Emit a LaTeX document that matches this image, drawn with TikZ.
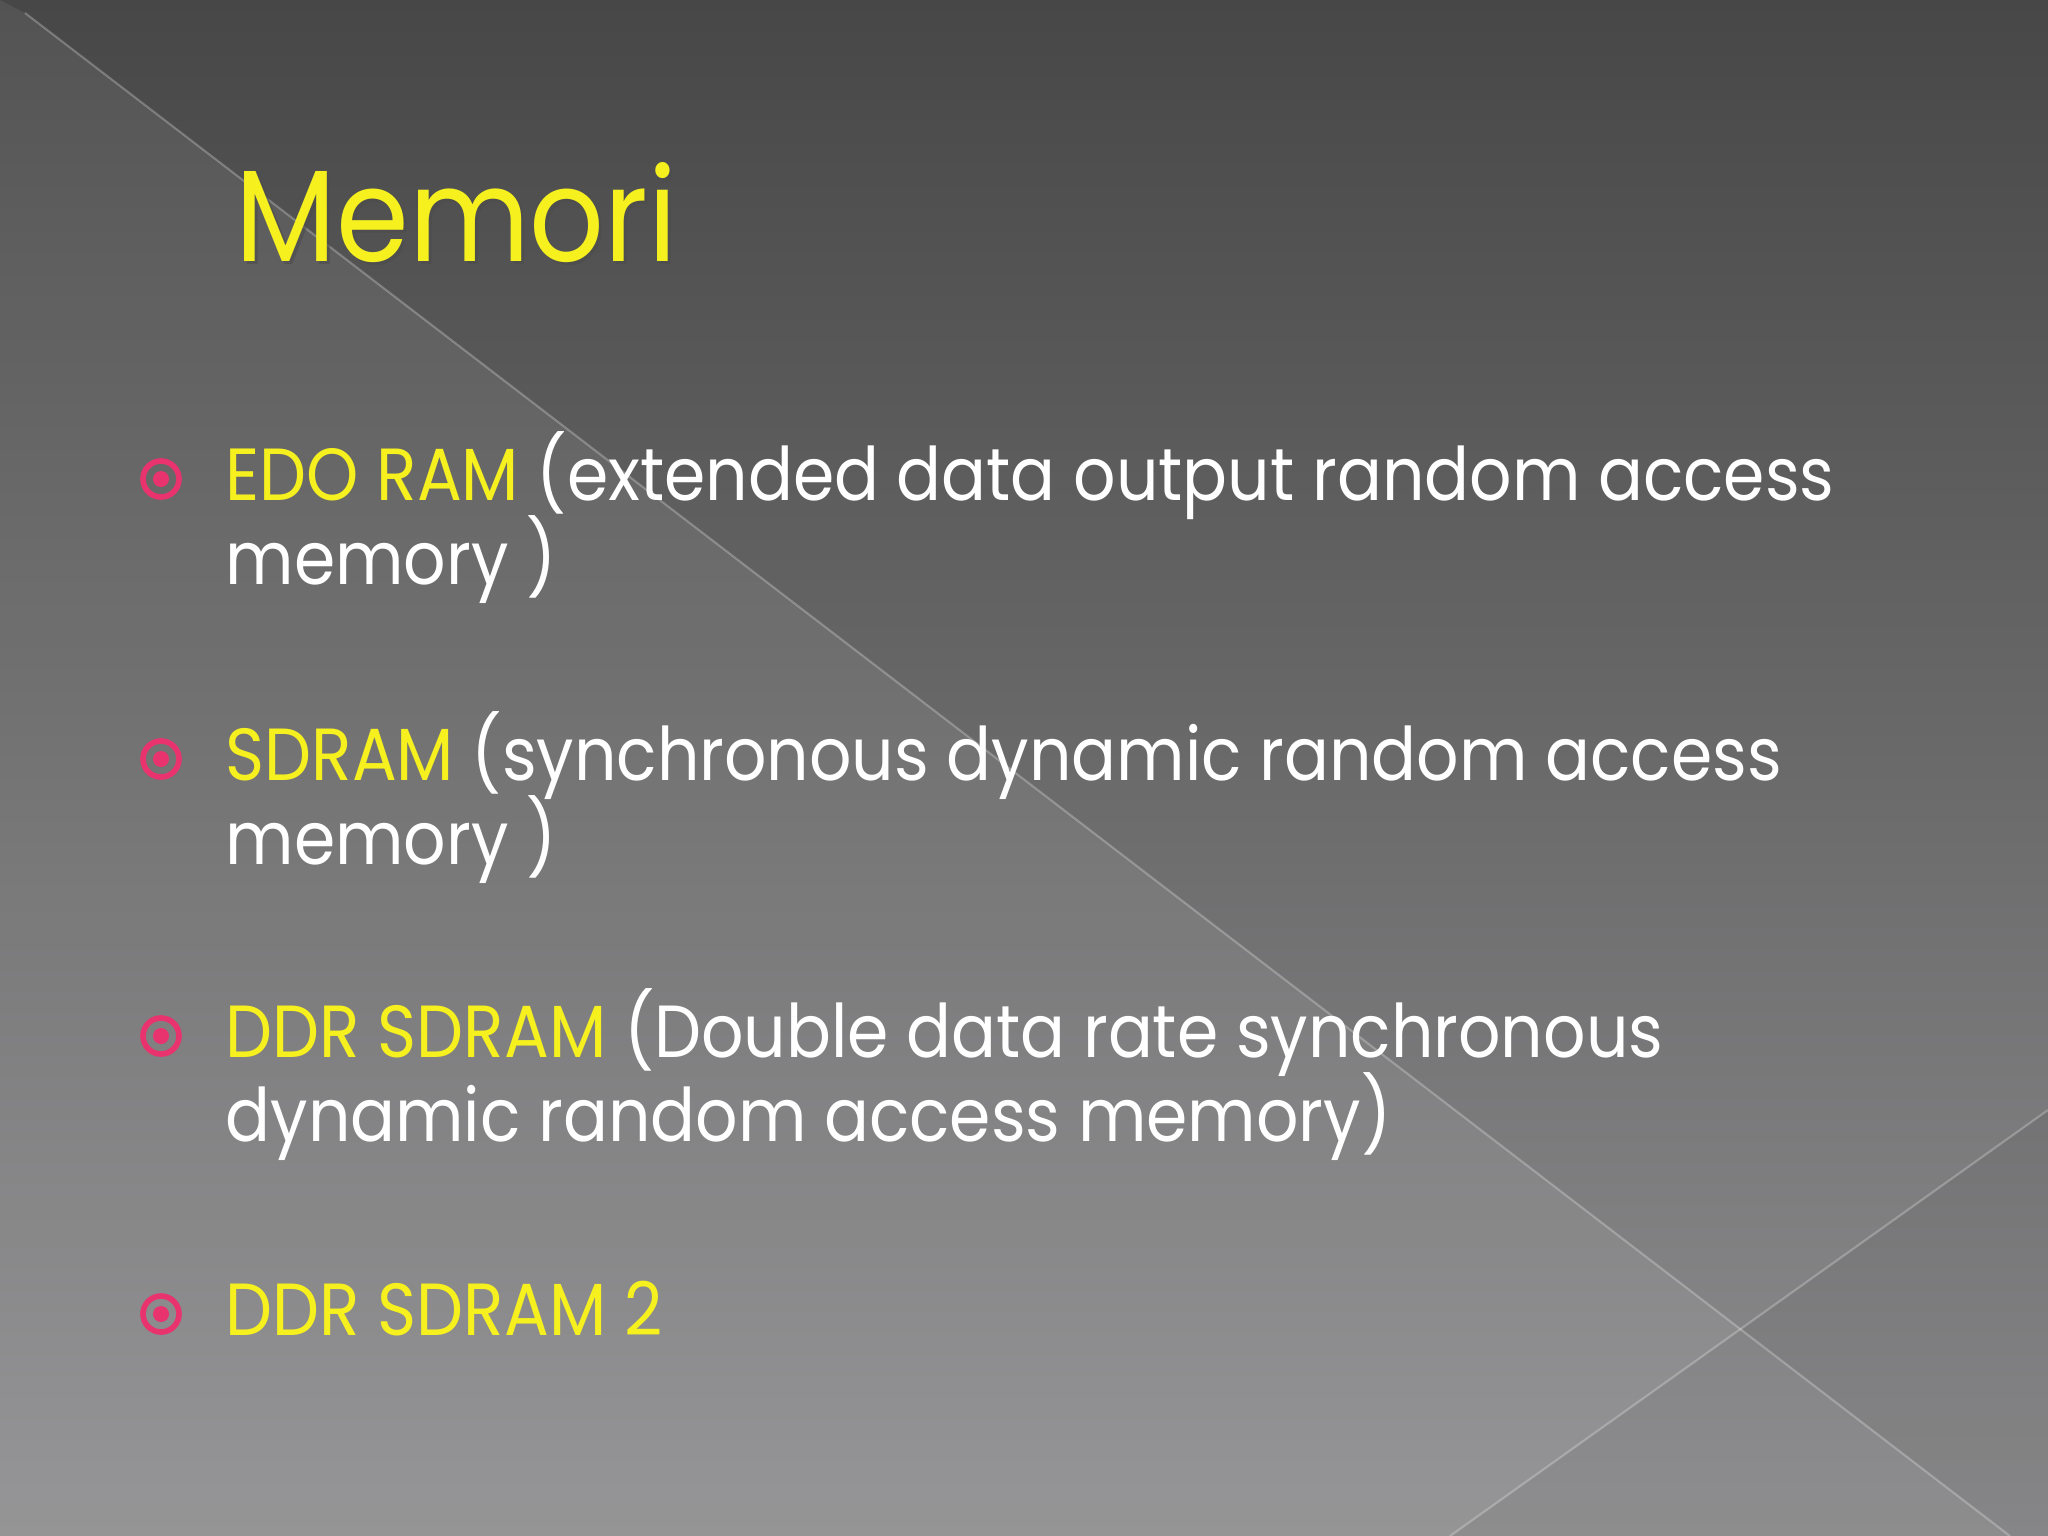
\documentclass[tikz,border=0pt]{standalone}
\usepackage{fontspec}
\setmainfont[FakeStretch=0.9]{Poppins}
\definecolor{ylw}{HTML}{F5F01E}
\definecolor{pnk}{HTML}{E8336F}
\definecolor{tp}{HTML}{474747}
\definecolor{bt}{HTML}{8E8D8F}
\tikzset{
 body/.style={anchor=base west,font=\fontsize{21}{30}\selectfont,text=white,inner sep=0pt},
 bul/.style={circle,draw=pnk,line width=1.6pt,fill=none,minimum size=0.36cm,inner sep=0pt,
   path picture={\fill[pnk] (path picture bounding box.center) circle (0.08cm);}},
}
\begin{document}
\begin{tikzpicture}[x=0.01cm,y=-0.01cm]
\useasboundingbox (0,0) rectangle (2048,1536);
\shade[top color=tp,bottom color=bt] (0,0) rectangle (2048,1536);
\fill[white,opacity=0.07] (0,0) -- (25,13) -- (2010,1536) -- (0,1536) -- cycle;
\fill[black,opacity=0.05] (2048,1110) -- (1450,1536) -- (2048,1536) -- cycle;
\draw[white,opacity=0.25,line width=0.6pt] (25,13) -- (2010,1536);
\draw[white,opacity=0.25,line width=0.6pt] (2048,1110) -- (1450,1536);
\node[anchor=base west,inner sep=0pt,font=\fontsize{37}{44}\selectfont,text=black!70,opacity=0.6] at (238,264) {Memori};
\node[anchor=base west,inner sep=0pt,font=\fontsize{37}{44}\selectfont,text=ylw] (title) at (235,261) {Memori};
\node[bul] (b1) at (161,479) {};
\node[body] (t1) at (225,500) {\textcolor{ylw}{EDO RAM} (extended data output random access};
\node[body] (t1b) at (225,584) {memory )};
\node[bul] (b2) at (161,759) {};
\node[body] (t2) at (225,780) {\textcolor{ylw}{SDRAM} (synchronous dynamic random access};
\node[body] (t2b) at (225,864) {memory )};
\node[bul] (b3) at (161,1036) {};
\node[body] (t3) at (225,1057) {\textcolor{ylw}{DDR SDRAM} (Double data rate synchronous};
\node[body] (t3b) at (225,1141) {dynamic random access memory)};
\node[bul] (b4) at (161,1314) {};
\node[body] (t4) at (225,1335) {\textcolor{ylw}{DDR SDRAM 2}};
\end{tikzpicture}
\end{document}
